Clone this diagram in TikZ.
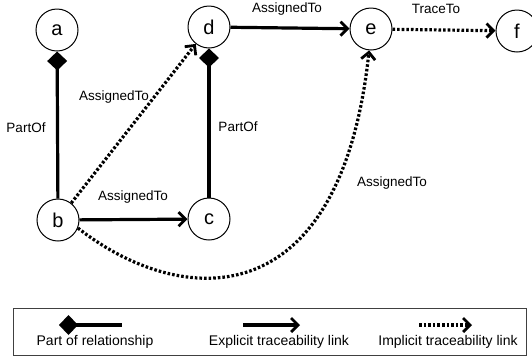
\documentclass[tikz,border=0pt]{standalone}
\usepackage{fontspec}
\setmainfont{Liberation Sans}
\usetikzlibrary{arrows.meta}
\begin{document}
\begin{tikzpicture}[x=1pt,y=-1pt,
  state/.style={circle,draw,line width=1pt,minimum size=42pt,inner sep=0pt,font=\fontsize{20}{22}\selectfont},
  lbl/.style={font=\fontsize{13.5}{15}\selectfont,inner sep=0pt},
  leg/.style={font=\fontsize{14}{16}\selectfont,inner sep=0pt},
  partof/.style={line width=3.2pt,{Diamond[length=19pt,width=20pt]}-},
  explicit/.style={line width=3.2pt,-{Straight Barb[length=7pt,width=14pt,line width=2.8pt]}},
  implicit/.style={line width=3.2pt,dash pattern=on 2.6pt off 2pt,-{Straight Barb[length=7pt,width=14pt,line width=2.8pt]}}]
\useasboundingbox (0,0) rectangle (532,357);

% states
\node[state] (a) at (57,30) {a};
\node[state] (d) at (209,27) {d};
\node[state] (e) at (371,29) {e};
\node[state] (f) at (517,31) {f};
\node[state] (b) at (58,220) {b};
\node[state] (c) at (209,219) {c};

% part-of relationships
\draw[partof] (a) -- (b);
\draw[partof] (d) -- (c);

% explicit links
\draw[explicit] (d) -- (e);
\draw[explicit] (b) -- (c);

% implicit links
\draw[implicit] (b) -- (d);
\draw[implicit] (e) -- (f);
\draw[implicit] (b.-22) .. controls (180,308) and (340,320) .. (e.265);

% link labels
\node[lbl] (lab) at (26,128) {PartOf};
\node[lbl] (lcd) at (238,127) {PartOf};
\node[lbl] (lbd) at (114,97) {AssignedTo};
\node[lbl] (lde) at (287,9) {AssignedTo};
\node[lbl] (lef) at (436,9) {TraceTo};
\node[lbl] (lbc) at (133,197) {AssignedTo};
\node[lbl] (lbe) at (392,183) {AssignedTo};

% legend
\node[draw=black!75,line width=1pt,minimum width=513pt,minimum height=47pt,inner sep=0pt] (legend) at (269.5,331.5) {};
\coordinate (p1) at (59,325);
\coordinate (p2) at (122,325);
\draw[partof] (p1) -- (p2);
\node[leg] (t1) at (95,342) {Part of relationship};
\coordinate (x1) at (243,325);
\coordinate (x2) at (300,325);
\draw[explicit] (x1) -- (x2);
\node[leg] (t2) at (279,342) {Explicit traceability link};
\coordinate (i1) at (419,325);
\coordinate (i2) at (472,325);
\draw[implicit] (i1) -- (i2);
\node[leg] (t3) at (448,342) {Implicit traceability link};
\end{tikzpicture}
\end{document}
